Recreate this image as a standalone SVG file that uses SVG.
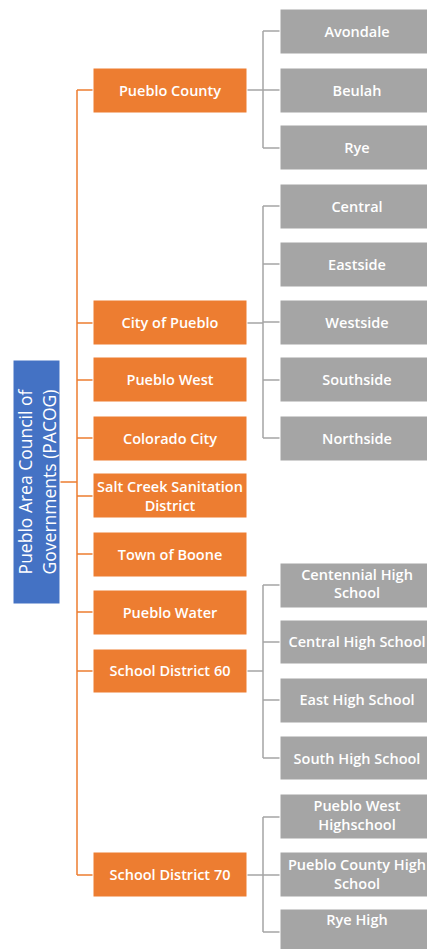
<svg xmlns="http://www.w3.org/2000/svg" width="427" height="949" viewBox="0 0 427 949">
  <style>
    .root { fill: #4472C4; stroke: #ffffff; stroke-width: 1; }
    .org { fill: #ED7D31; stroke: #ffffff; stroke-width: 1; }
    .unit { fill: #A5A5A5; stroke: #ffffff; stroke-width: 1; }
    text { font-family: "Open Sans", "Liberation Sans", sans-serif; fill: #ffffff; text-anchor: middle; }
    .lbl { font-size: 14.5px; font-weight: 600; }
    .rootlbl { font-size: 17.5px; font-weight: 400; }
    .c-org { stroke: #ED7D31; stroke-width: 1.5; fill: none; }
    .c-unit { stroke: #A5A5A5; stroke-width: 1.5; fill: none; }
  </style>

  <rect x="0" y="0" width="427" height="949" fill="#ffffff"/>

  <!-- connectors -->
  <g id="connectors">
    <!-- root to member organisations -->
    <path class="c-org" d="M60 482 H77 M77 90 V875 M77 90 H93 M77 323 H93 M77 380 H93 M77 438 H93 M77 496 H93 M77 554 H93 M77 612 H93 M77 671 H93 M77 875 H93"/>
    <!-- Pueblo County -->
    <path class="c-unit" d="M247 90 H263 M263 31 V148 M263 31 H280 M263 90 H280 M263 148 H280"/>
    <!-- City of Pueblo -->
    <path class="c-unit" d="M247 323 H263 M263 206 V438 M263 206 H280 M263 264 H280 M263 322 H280 M263 380 H280 M263 438 H280"/>
    <!-- School District 60 -->
    <path class="c-unit" d="M247 671 H263 M263 585 V758 M263 585 H280 M263 642 H280 M263 700 H280 M263 758 H280"/>
    <!-- School District 70 -->
    <path class="c-unit" d="M247 875 H263 M263 817 V932 M263 817 H280 M263 875 H280 M263 932 H280"/>
  </g>

  <!-- root -->
  <g id="pacog">
    <rect class="root" x="13" y="360" width="47" height="244"/>
    <g transform="translate(36.5,482) rotate(-90)">
      <text class="rootlbl" x="0" y="-5">Pueblo Area Council of</text>
      <text class="rootlbl" x="0" y="19">Governments (PACOG)</text>
    </g>
  </g>

  <!-- member organisations -->
  <g id="pueblo-county">
    <rect class="org" x="93" y="68" width="154" height="45"/>
    <text class="lbl" x="170" y="95.5">Pueblo County</text>
  </g>
  <g id="city-of-pueblo">
    <rect class="org" x="93" y="300" width="154" height="45"/>
    <text class="lbl" x="170" y="327.5">City of Pueblo</text>
  </g>
  <g id="pueblo-west">
    <rect class="org" x="93" y="357" width="154" height="45"/>
    <text class="lbl" x="170" y="384.5">Pueblo West</text>
  </g>
  <g id="colorado-city">
    <rect class="org" x="93" y="416" width="154" height="45"/>
    <text class="lbl" x="170" y="443.5">Colorado City</text>
  </g>
  <g id="salt-creek">
    <rect class="org" x="93" y="473" width="154" height="45"/>
    <text class="lbl" x="170" y="492">Salt Creek Sanitation</text>
    <text class="lbl" x="170" y="510.5">District</text>
  </g>
  <g id="town-of-boone">
    <rect class="org" x="93" y="532" width="154" height="45"/>
    <text class="lbl" x="170" y="559.5">Town of Boone</text>
  </g>
  <g id="pueblo-water">
    <rect class="org" x="93" y="590" width="154" height="45"/>
    <text class="lbl" x="170" y="617.5">Pueblo Water</text>
  </g>
  <g id="school-district-60">
    <rect class="org" x="93" y="649" width="154" height="44"/>
    <text class="lbl" x="170" y="675.5">School District 60</text>
  </g>
  <g id="school-district-70">
    <rect class="org" x="93" y="852" width="154" height="45"/>
    <text class="lbl" x="170" y="879.5">School District 70</text>
  </g>

  <!-- Pueblo County units -->
  <g id="avondale">
    <rect class="unit" x="280" y="9" width="154" height="45"/>
    <text class="lbl" x="357" y="36.5">Avondale</text>
  </g>
  <g id="beulah">
    <rect class="unit" x="280" y="68" width="154" height="45"/>
    <text class="lbl" x="357" y="95.5">Beulah</text>
  </g>
  <g id="rye">
    <rect class="unit" x="280" y="125" width="154" height="45"/>
    <text class="lbl" x="357" y="152.5">Rye</text>
  </g>

  <!-- City of Pueblo units -->
  <g id="central">
    <rect class="unit" x="280" y="184" width="154" height="45"/>
    <text class="lbl" x="357" y="211.5">Central</text>
  </g>
  <g id="eastside">
    <rect class="unit" x="280" y="242" width="154" height="45"/>
    <text class="lbl" x="357" y="269.5">Eastside</text>
  </g>
  <g id="westside">
    <rect class="unit" x="280" y="300" width="154" height="45"/>
    <text class="lbl" x="357" y="327.5">Westside</text>
  </g>
  <g id="southside">
    <rect class="unit" x="280" y="357" width="154" height="45"/>
    <text class="lbl" x="357" y="384.5">Southside</text>
  </g>
  <g id="northside">
    <rect class="unit" x="280" y="416" width="154" height="45"/>
    <text class="lbl" x="357" y="443.5">Northside</text>
  </g>

  <!-- School District 60 units -->
  <g id="centennial-high">
    <rect class="unit" x="280" y="563" width="154" height="45"/>
    <text class="lbl" x="357" y="579.5">Centennial High</text>
    <text class="lbl" x="357" y="598">School</text>
  </g>
  <g id="central-high">
    <rect class="unit" x="280" y="620" width="154" height="44"/>
    <text class="lbl" x="357" y="647">Central High School</text>
  </g>
  <g id="east-high">
    <rect class="unit" x="280" y="678" width="154" height="45"/>
    <text class="lbl" x="357" y="704.5">East High School</text>
  </g>
  <g id="south-high">
    <rect class="unit" x="280" y="736" width="154" height="44"/>
    <text class="lbl" x="357" y="763.5">South High School</text>
  </g>

  <!-- School District 70 units -->
  <g id="pueblo-west-high">
    <rect class="unit" x="280" y="794" width="154" height="45"/>
    <text class="lbl" x="357" y="811">Pueblo West</text>
    <text class="lbl" x="357" y="829.5">Highschool</text>
  </g>
  <g id="pueblo-county-high">
    <rect class="unit" x="280" y="852" width="154" height="45"/>
    <text class="lbl" x="357" y="870">Pueblo County High</text>
    <text class="lbl" x="357" y="888.5">School</text>
  </g>
  <g id="rye-high">
    <rect class="unit" x="280" y="909" width="154" height="45"/>
    <text class="lbl" x="357" y="924.5">Rye High</text>
  </g>
</svg>
